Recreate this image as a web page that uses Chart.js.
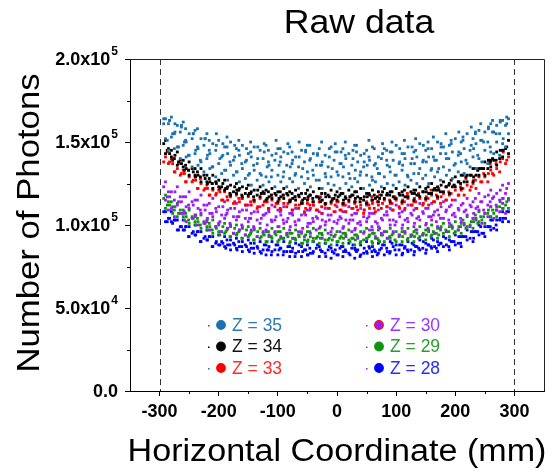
<!DOCTYPE html>
<html>
<head>
<meta charset="utf-8">
<title>Raw data</title>
<script src="https://cdn.jsdelivr.net/npm/chart.js@4/dist/chart.umd.min.js"></script>
<style>
  html, body { margin: 0; padding: 0; background: #fff; }
  #wrap { width: 553px; height: 474px; }
</style>
</head>
<body>
<div id="wrap"><canvas id="chart" width="553" height="474"></canvas></div>
<script>
// x positions (mm) of the sampled points
const xsA = [-290,-280,-270,-260,-250,-240,-230,-220,-210,-200,-190,-180,-170,-160,-150,-140,-130,-120,-110,-100,
  -90,-80,-70,-60,-50,-40,-30,-20,-10,0,10,20,30,40,50,60,70,80,90,100,110,120,130,140,150,160,170,180,190,200,
  210,220,230,240,250,260,270,280,290];
const xsB = [-285,-275,-265,-255,-245,-235,-225,-215,-205,-195,-185,-175,-165,-155,-145,-135,-125,-115,-105,-95,
  -85,-75,-65,-55,-45,-35,-25,-15,-5,5,15,25,35,45,55,65,75,85,95,105,115,125,135,145,155,165,175,185,195,205,
  215,225,235,245,255,265,275,285];
const xsC = [-293,-283,-274,-263,-256,-243,-236,-223,-216,-204,-193,-186,-173,-166,-153,-146,-134,-123,-116,-103,
  -96,-83,-76,-64,-53,-46,-33,-26,-13,-3,7,14,27,33,46,54,63,77,84,93,106,114,127,133,146,154,163,176,184,193,
  206,213,227,234,243,256,263,276,287];
const xsD = [-287,-278,-268,-258,-251,-239,-231,-219,-211,-198,-188,-181,-169,-161,-148,-141,-128,-118,-111,-98,
  -91,-79,-71,-58,-49,-41,-28,-19,-8,2,11,22,31,39,51,59,68,72,89,98,111,119,131,138,151,159,168,172,189,198,
  209,218,231,238,248,259,269,281];

// photon counts, in thousands
const z35a = [164,165,160,162,155,157,152,155,149,151,147,150,146,148,143,147,145,148,142,146,
  144,147,141,145,148,143,146,142,147,144,146,143,148,142,145,147,141,146,144,148,
  143,147,144,149,145,146,150,147,148,152,150,155,152,157,156,161,160,163,164];
const z35b = [161,155,156,150,152,146,148,143,145,141,143,139,142,138,141,137,140,136,139,141,
  136,139,135,138,140,136,138,135,139,137,140,136,138,135,139,137,140,136,139,137,
  140,137,141,138,141,139,143,140,144,142,146,145,149,151,150,156,155,160];
const z35c = [152,153,147,148,142,143,138,140,135,137,133,136,132,134,130,133,131,129,133,130,
  132,128,131,129,132,130,127,131,129,132,129,131,128,132,130,127,131,129,132,130,
  133,129,131,134,130,134,132,135,133,137,138,137,141,140,145,144,150,149,155];
const z35d = [145,146,140,141,135,136,132,134,129,131,127,130,126,128,124,127,124,126,123,126,
  123,126,122,125,123,127,122,125,124,122,125,123,126,122,124,126,123,125,124,126,
  124,127,125,128,125,129,127,130,128,132,131,135,134,138,137,143,142,147];
const z35e = [161,163,156,159,151,155,147,152,145,148,142,147,141,145,139,144,140,144,138,143,
  138,143,137,141,144,139,142,136,141,144,137,142,140,144,138,141,136,143,139,144,
  138,143,140,145,139,146,141,147,143,149,144,151,148,155,151,158,156,162,161];
const z35f = [151,155,147,150,142,145,139,142,135,140,133,138,132,137,131,136,130,135,129,136,
  129,135,130,134,128,133,136,129,134,130,135,128,133,130,136,129,134,131,135,130,
  136,130,137,131,138,133,139,134,140,136,143,139,146,142,150,147,155,152];
const z35g = [164,163,161,160,158,155,158,152,151,155,149,153,148,151,146,150,147,149,145,151,
  146,149,144,150,145,148,143,150,146,149,144,150,145,148,143,151,146,149,145,150,
  146,151,147,152,148,150,153,149,155,151,156,153,159,156,161,159,163,163,165];

const z34a = [151,145,144,139,138,134,134,130,130,127,127,124,125,123,124,121,123,121,122,120,
  122,120,121,119,121,120,122,119,121,120,119,121,120,122,119,121,120,122,120,122,
  120,123,121,123,122,125,123,126,125,129,130,130,134,134,138,139,144,145,151];
const z34b = [146,140,139,134,134,130,130,126,126,123,123,120,122,119,120,118,120,117,119,117,
  119,116,118,116,118,117,115,118,116,118,116,118,117,115,118,116,118,119,117,119,
  117,120,118,120,119,122,120,123,123,126,126,130,130,134,134,139,140,146];
const z34c = [143,141,136,135,130,130,126,126,122,123,121,118,119,117,118,115,117,115,116,114,
  116,114,115,113,115,114,116,113,114,115,113,115,114,116,113,115,114,116,114,116,
  114,117,115,117,116,119,117,120,119,123,122,126,126,130,130,135,136,141,143];
const z34d = [149,143,142,137,136,132,132,128,128,125,125,122,123,121,122,119,121,119,120,118,
  120,118,119,117,119,118,117,119,117,118,119,117,118,120,117,119,118,120,118,120,
  118,121,119,121,120,123,121,124,123,127,126,130,130,134,134,139,140,145,147];
const z34e = [145,139,138,133,133,129,129,125,125,122,122,119,121,118,119,117,119,116,118,116,
  118,115,117,115,117,116,114,117,115,117,115,117,116,114,117,115,117,116,118,116,
  118,117,119,118,120,119,121,121,124,124,125,129,129,133,134,138,139,145];

const z33a = [141,140,134,133,129,129,125,124,121,121,120,117,118,116,117,114,116,114,115,113,
  113,115,112,114,113,112,114,112,113,114,112,114,113,112,114,113,112,115,113,115,
  113,116,114,116,115,118,116,119,118,121,121,124,125,129,129,133,134,140,141];
const z33b = [137,132,130,126,126,122,121,118,118,115,115,113,114,112,112,110,112,110,111,109,
  111,109,110,108,110,109,107,110,108,109,108,110,109,107,110,108,110,111,109,111,
  110,112,110,112,112,114,113,115,115,118,118,121,122,126,126,130,132,137];
const z33c = [138,138,132,131,126,127,122,122,118,119,115,117,114,116,112,114,111,114,110,113,
  110,113,109,112,110,112,109,111,110,112,109,112,110,111,109,112,110,113,111,113,
  110,114,112,114,113,116,114,117,115,119,118,122,123,127,126,131,131,138,139];
const z33d = [144,137,137,131,133,127,128,122,125,120,122,118,121,116,119,115,119,114,118,115,
  118,114,117,113,116,114,117,113,116,114,113,117,114,116,113,117,114,118,115,117,
  115,119,116,119,117,121,118,122,120,124,123,128,127,133,131,137,137,144];

const z30a = [126,120,123,117,120,115,118,112,116,111,114,110,113,109,112,108,111,107,112,109,
  111,107,110,106,109,112,108,110,106,111,108,111,107,110,112,107,109,106,110,112,
  108,112,109,113,110,113,109,114,111,115,112,116,114,119,117,121,119,124,125];
const z30b = [120,115,117,111,114,110,112,107,110,106,109,105,108,104,107,103,106,108,103,106,
  102,106,103,107,101,105,103,106,102,105,103,106,101,105,107,102,104,106,103,107,
  103,107,104,108,105,108,104,109,106,110,108,112,110,114,112,117,115,119];
const z30c = [115,110,112,107,110,105,107,102,105,101,104,100,103,99,102,98,101,97,102,99,
  101,97,100,96,99,102,98,100,96,101,98,101,97,100,102,97,99,96,100,102,
  98,102,99,103,100,103,99,104,101,105,102,106,104,109,107,111,109,113,115];
const z30d = [109,105,107,102,104,100,101,97,99,96,98,95,97,94,97,93,96,94,96,93,
  95,92,96,93,95,97,92,95,93,96,93,96,92,95,97,93,95,92,96,94,
  96,94,97,94,97,95,98,96,99,97,100,99,103,101,105,104,108,107];
const z30e = [123,117,120,114,117,112,115,109,113,108,111,107,110,105,109,104,108,106,109,105,
  108,104,107,103,106,109,104,107,103,108,104,108,103,107,109,105,107,103,108,109,
  105,109,106,110,107,110,106,111,108,112,109,113,111,116,114,118,116,121,122];
const z30f = [117,111,114,108,112,106,109,104,107,102,106,101,105,100,104,99,104,100,103,99,
  103,99,102,98,101,104,99,102,98,103,99,103,98,102,104,99,101,98,103,100,
  100,104,101,105,101,105,102,106,103,107,104,109,107,111,109,114,112,116];

const z29a = [118,114,113,109,109,106,106,103,103,100,101,99,100,98,99,97,98,96,98,96,
  98,95,97,95,96,98,95,97,94,96,95,97,94,96,98,95,97,96,98,96,
  96,98,96,99,97,100,98,101,99,102,101,105,104,108,107,111,111,116,116];
const z29b = [114,109,109,105,105,102,102,99,99,96,98,95,97,94,96,93,95,93,95,92,
  94,92,94,91,93,92,94,91,93,92,94,92,93,91,94,92,94,92,95,93,
  95,93,95,94,96,95,97,96,98,97,101,100,104,103,107,107,111,112];
const z29c = [110,110,105,105,101,102,98,99,95,96,95,93,94,92,93,91,92,90,92,90,
  92,89,91,89,90,92,89,91,88,90,89,91,88,90,92,89,91,90,92,90,
  90,92,90,93,91,94,92,95,93,96,95,99,98,102,101,105,105,110,110];
const z29d = [116,112,111,107,107,104,104,101,101,98,99,97,98,96,97,95,96,94,96,94,
  96,93,95,93,94,96,93,95,92,94,93,95,92,94,96,93,95,94,96,94,
  94,96,94,97,95,98,96,99,97,100,99,103,102,106,105,109,109,114,114];
const z29e = [112,107,107,103,103,100,100,97,97,94,96,93,95,92,94,91,93,90,93,91,
  92,90,92,89,91,90,92,89,91,90,92,90,91,89,92,90,92,90,93,91,
  93,91,93,92,94,93,95,94,96,95,99,98,102,101,105,105,109,110];

const z28a = [108,108,103,103,99,100,96,97,93,94,93,91,92,90,91,89,90,88,90,88,
  90,87,89,87,88,90,87,89,86,88,87,89,86,88,90,87,89,88,90,88,
  88,90,88,91,89,92,90,93,91,94,93,97,96,100,99,103,103,108,108];
const z28b = [104,103,99,99,95,96,92,93,89,90,88,89,87,88,86,87,85,87,85,86,
  84,86,84,85,83,86,84,85,83,86,84,86,85,83,86,84,86,84,87,85,
  87,85,87,86,88,87,89,88,90,89,93,92,96,95,99,98,103,104];
const z28c = [102,102,97,97,93,94,90,91,87,88,87,85,86,84,85,83,84,82,84,82,
  84,81,83,81,82,84,81,83,80,82,81,83,80,82,84,81,83,82,84,82,
  82,84,82,85,83,86,84,87,85,88,87,91,90,94,93,97,97,102,102];
const z28d = [108,104,103,99,99,96,96,93,93,90,89,91,88,90,87,89,86,88,85,88,
  86,87,84,88,85,86,88,84,87,85,87,85,88,84,86,87,85,88,86,89,
  88,86,89,87,90,88,91,89,92,90,93,93,96,96,99,99,103,104,108];
const z28e = [102,101,97,97,93,94,90,91,87,88,86,88,85,87,84,86,83,85,82,85,
  82,84,81,84,82,83,85,81,84,82,84,82,85,81,83,84,82,85,83,85,
  83,85,84,86,85,87,86,88,87,90,89,93,92,96,95,99,100,104];

const seriesLabels = ['Z = 35', 'Z = 34', 'Z = 33', 'Z = 30', 'Z = 29', 'Z = 28'];
const seriesRows = [
  [[xsC, z35g], [xsA, z35a], [xsC, z35e], [xsB, z35b], [xsD, z35f], [xsA, z35c], [xsB, z35d]],
  [[xsA, z34a], [xsC, z34d], [xsB, z34b], [xsD, z34e], [xsA, z34c]],
  [[xsA, z33a], [xsC, z33c], [xsB, z33b], [xsD, z33d]],
  [[xsA, z30a], [xsC, z30e], [xsB, z30b], [xsD, z30f], [xsA, z30c], [xsB, z30d]],
  [[xsA, z29a], [xsC, z29d], [xsB, z29b], [xsD, z29e], [xsA, z29c]],
  [[xsC, z28d], [xsA, z28a], [xsB, z28b], [xsD, z28e], [xsA, z28c]],
];

const xTickLabels = [-300, -200, -100, 0, 100, 200, 300];
const yTickValues = [0, 50, 100, 150, 200];
const yTickBase = ['0.0', '5.0x10', '1.0x10', '1.5x10', '2.0x10'];
const yTickExp = ['', '4', '5', '5', '5'];
const guideLines = [-300, 300];

// styles
const seriesColors = ['#1a72b0', '#000000', '#ff0000', '#9a1cf5', '#0e930e', '#0000ff'];
const legendText = ['#2a7ab4', '#111111', '#ff2a2a', '#9a33ff', '#2a9e2a', '#2a2aff'];
const legendRing = ['#1a72b0', '#000000', '#ff0000', '#ff0000', '#0e930e', '#0000ff'];
const legendSpeck = ['#ff0000', '#000000', '#1a72b0', '#9a1cf5', '#0e930e', '#9a1cf5'];
const FONT = '"Liberation Sans", Arial, sans-serif';

function toPoints(rows) {
  const pts = [];
  rows.forEach(([xs, ys]) => xs.forEach((x, i) => pts.push({ x: x, y: ys[i] })));
  return pts;
}

function stretchText(ctx, text, x, y, sx, rot) {
  ctx.save();
  ctx.translate(x, y);
  if (rot) ctx.rotate(rot);
  ctx.scale(sx, 1);
  ctx.fillText(text, 0, 0);
  ctx.restore();
}

const decorPlugin = {
  id: 'decor',
  beforeDatasetsDraw(chart) {
    const { ctx, chartArea: a, scales: { x } } = chart;
    ctx.save();
    ctx.strokeStyle = '#333';
    ctx.lineWidth = 1;
    ctx.setLineDash([6, 4]);
    guideLines.forEach((v) => {
      const px = Math.round(x.getPixelForValue(v)) + 0.5;
      ctx.beginPath();
      ctx.moveTo(px, a.top);
      ctx.lineTo(px, a.bottom);
      ctx.stroke();
    });
    ctx.restore();
  },
  afterDraw(chart) {
    const { ctx, chartArea: a, scales: { x, y } } = chart;
    ctx.save();

    // top and right frame
    ctx.strokeStyle = '#222';
    ctx.lineWidth = 1;
    ctx.beginPath();
    ctx.moveTo(a.left, a.top + 0.5);
    ctx.lineTo(a.right + 0.5, a.top + 0.5);
    ctx.lineTo(a.right + 0.5, a.bottom);
    ctx.stroke();

    // minor ticks
    ctx.strokeStyle = '#000';
    x.ticks.forEach((t) => {
      if (t.value % 100 === 0 || Math.abs(t.value) >= 350) return;
      const px = Math.round(x.getPixelForValue(t.value)) + 0.5;
      ctx.beginPath();
      ctx.moveTo(px, a.bottom);
      ctx.lineTo(px, a.bottom + 3);
      ctx.stroke();
    });
    y.ticks.forEach((t) => {
      if (t.value % 50 === 0) return;
      const py = Math.round(y.getPixelForValue(t.value)) + 0.5;
      ctx.beginPath();
      ctx.moveTo(a.left, py);
      ctx.lineTo(a.left - 3, py);
      ctx.stroke();
    });

    // y tick labels with superscript exponent
    ctx.fillStyle = '#000';
    ctx.textBaseline = 'middle';
    ctx.textAlign = 'left';
    yTickValues.forEach((v, i) => {
      const py = y.getPixelForValue(v);
      ctx.font = 'bold 12px ' + FONT;
      const wS = yTickExp[i] ? ctx.measureText(yTickExp[i]).width + 1 : 0;
      ctx.font = 'bold 18px ' + FONT;
      const wB = ctx.measureText(yTickBase[i]).width;
      const right = a.left - 12;
      ctx.fillText(yTickBase[i], right - wS - wB, py + 1);
      if (yTickExp[i]) {
        ctx.font = 'bold 12px ' + FONT;
        ctx.fillText(yTickExp[i], right - wS + 1, py - 7);
      }
    });

    // titles
    ctx.textAlign = 'center';
    ctx.textBaseline = 'alphabetic';
    ctx.font = '33px ' + FONT;
    stretchText(ctx, 'Raw data', 359, 33, 1.08);
    ctx.font = '31px ' + FONT;
    stretchText(ctx, 'Horizontal Coordinate (mm)', (a.left + a.right) / 2, 461, 1.1);
    stretchText(ctx, 'Number of Photons', 39, (a.top + a.bottom) / 2 - 2, 1.12, -Math.PI / 2);

    // legend, two columns of three
    ctx.textAlign = 'left';
    ctx.textBaseline = 'middle';
    ctx.font = '17.5px ' + FONT;
    chart.data.datasets.forEach((ds, i) => {
      const col = Math.floor(i / 3);
      const row = i % 3;
      const mx = a.left + 91 + col * 158;
      const my = a.top + 266 + row * 21.5;
      ctx.fillStyle = legendSpeck[i];
      ctx.fillRect(mx - 13, my, 1.5, 1.5);
      ctx.beginPath();
      ctx.arc(mx, my, 4.3, 0, Math.PI * 2);
      ctx.fillStyle = ds.borderColor;
      ctx.fill();
      ctx.lineWidth = 1.2;
      ctx.strokeStyle = legendRing[i];
      ctx.stroke();
      ctx.fillStyle = legendText[i];
      ctx.fillText(ds.label, mx + 11, my + 1);
    });

    ctx.restore();
  },
};

const datasets = seriesLabels.map((label, i) => ({
  label: label,
  data: toPoints(seriesRows[i]),
  backgroundColor: seriesColors[i],
  borderColor: seriesColors[i],
  borderWidth: 0,
  pointStyle: 'rect',
  pointRadius: 2,
  pointHoverRadius: 2,
}));

new Chart(document.getElementById('chart'), {
  type: 'scatter',
  data: { datasets: datasets },
  options: {
    responsive: false,
    animation: false,
    events: [],
    layout: { padding: { top: 59, right: 9, left: 0, bottom: 0 } },
    plugins: {
      legend: { display: false },
      title: { display: false },
      tooltip: { enabled: false },
    },
    scales: {
      x: {
        type: 'linear',
        min: -350,
        max: 350,
        afterFit: (scale) => { scale.height = 83; },
        border: { display: true, color: '#000', width: 1 },
        grid: {
          drawOnChartArea: false,
          drawTicks: true,
          tickLength: 5,
          tickColor: (c) => (c.tick && xTickLabels.includes(c.tick.value) ? '#000' : 'rgba(0,0,0,0)'),
        },
        ticks: {
          stepSize: 50,
          autoSkip: false,
          maxRotation: 0,
          padding: 5,
          color: '#000',
          font: { family: FONT, size: 18, weight: 'bold' },
          callback: (v) => (xTickLabels.includes(v) ? String(v) : ''),
        },
      },
      y: {
        type: 'linear',
        min: 0,
        max: 200,
        afterFit: (scale) => { scale.width = 130; },
        border: { display: true, color: '#000', width: 1 },
        grid: {
          drawOnChartArea: false,
          drawTicks: true,
          tickLength: 5,
          tickColor: (c) => (c.tick && c.tick.value % 50 === 0 ? '#000' : 'rgba(0,0,0,0)'),
        },
        ticks: { stepSize: 25, display: false },
      },
    },
  },
  plugins: [decorPlugin],
});
</script>
</body>
</html>
